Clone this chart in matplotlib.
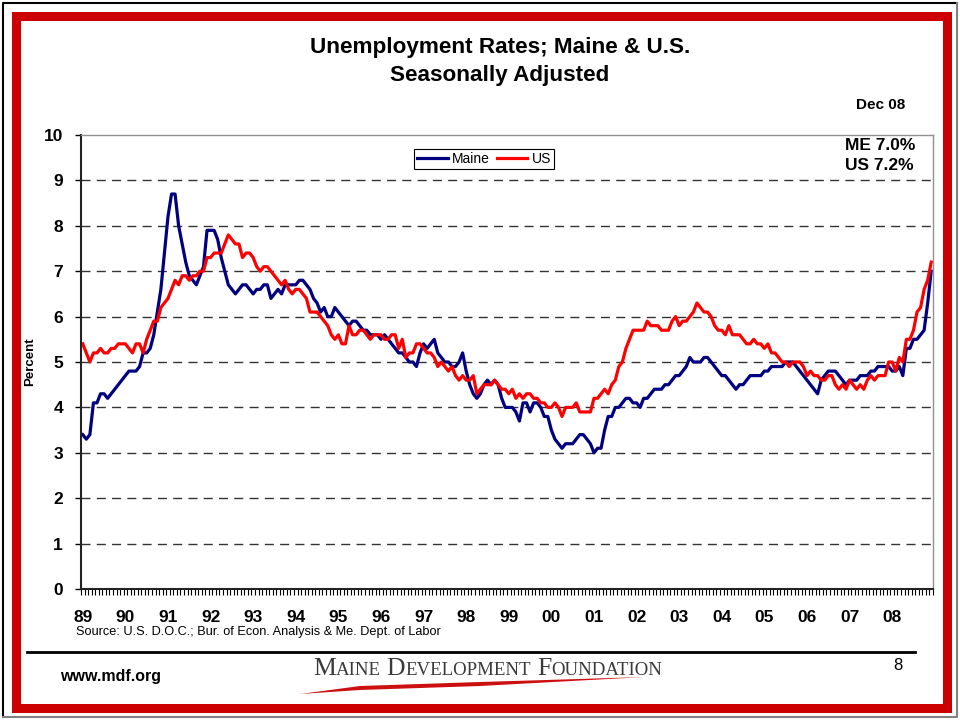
import matplotlib
matplotlib.use("Agg")
import matplotlib.pyplot as plt
import numpy as np
from matplotlib.patches import Rectangle, Polygon
from matplotlib.lines import Line2D

plt.rcParams['font.family'] = ['Liberation Sans', 'DejaVu Sans']

years = ["89", "90", "91", "92", "93", "94", "95", "96", "97", "98",
         "99", "00", "01", "02", "03", "04", "05", "06", "07", "08"]

# monthly, seasonally adjusted, Jan 1989 - Dec 2008
maine = [
    3.4, 3.3, 3.4, 4.1, 4.1, 4.3, 4.3, 4.2, 4.3, 4.4, 4.5, 4.6,
    4.7, 4.8, 4.8, 4.8, 4.9, 5.2, 5.2, 5.3, 5.6, 6.1, 6.6, 7.4,
    8.2, 8.7, 8.7, 8.0, 7.6, 7.2, 6.9, 6.8, 6.7, 6.9, 7.1, 7.9,
    7.9, 7.9, 7.7, 7.3, 7.0, 6.7, 6.6, 6.5, 6.6, 6.7, 6.7, 6.6,
    6.5, 6.6, 6.6, 6.7, 6.7, 6.4, 6.5, 6.6, 6.5, 6.7, 6.7, 6.7,
    6.7, 6.8, 6.8, 6.7, 6.6, 6.4, 6.3, 6.1, 6.2, 6.0, 6.0, 6.2,
    6.1, 6.0, 5.9, 5.8, 5.9, 5.9, 5.8, 5.7, 5.7, 5.6, 5.6, 5.6,
    5.5, 5.6, 5.5, 5.4, 5.3, 5.2, 5.2, 5.1, 5.0, 5.0, 4.9, 5.2,
    5.4, 5.3, 5.4, 5.5, 5.2, 5.1, 5.0, 5.0, 4.9, 4.9, 5.0, 5.2,
    4.8, 4.5, 4.3, 4.2, 4.3, 4.5, 4.6, 4.5, 4.6, 4.5, 4.2, 4.0,
    4.0, 4.0, 3.9, 3.7, 4.1, 4.1, 3.9, 4.1, 4.1, 4.0, 3.8, 3.8,
    3.5, 3.3, 3.2, 3.1, 3.2, 3.2, 3.2, 3.3, 3.4, 3.4, 3.3, 3.2,
    3.0, 3.1, 3.1, 3.5, 3.8, 3.8, 4.0, 4.0, 4.1, 4.2, 4.2, 4.1,
    4.1, 4.0, 4.2, 4.2, 4.3, 4.4, 4.4, 4.4, 4.5, 4.5, 4.6, 4.7,
    4.7, 4.8, 4.9, 5.1, 5.0, 5.0, 5.0, 5.1, 5.1, 5.0, 4.9, 4.8,
    4.7, 4.7, 4.6, 4.5, 4.4, 4.5, 4.5, 4.6, 4.7, 4.7, 4.7, 4.7,
    4.8, 4.8, 4.9, 4.9, 4.9, 4.9, 5.0, 5.0, 5.0, 4.9, 4.8, 4.7,
    4.6, 4.5, 4.4, 4.3, 4.6, 4.7, 4.8, 4.8, 4.8, 4.7, 4.6, 4.5,
    4.6, 4.6, 4.6, 4.7, 4.7, 4.7, 4.8, 4.8, 4.9, 4.9, 4.9, 4.9,
    4.8, 4.8, 4.9, 4.7, 5.3, 5.3, 5.5, 5.5, 5.6, 5.7, 6.3, 7.0,
]

us = [
    5.4, 5.2, 5.0, 5.2, 5.2, 5.3, 5.2, 5.2, 5.3, 5.3, 5.4, 5.4,
    5.4, 5.3, 5.2, 5.4, 5.4, 5.2, 5.5, 5.7, 5.9, 5.9, 6.2, 6.3,
    6.4, 6.6, 6.8, 6.7, 6.9, 6.9, 6.8, 6.9, 6.9, 7.0, 7.0, 7.3,
    7.3, 7.4, 7.4, 7.4, 7.6, 7.8, 7.7, 7.6, 7.6, 7.3, 7.4, 7.4,
    7.3, 7.1, 7.0, 7.1, 7.1, 7.0, 6.9, 6.8, 6.7, 6.8, 6.6, 6.5,
    6.6, 6.6, 6.5, 6.4, 6.1, 6.1, 6.1, 6.0, 5.9, 5.8, 5.6, 5.5,
    5.6, 5.4, 5.4, 5.8, 5.6, 5.6, 5.7, 5.7, 5.6, 5.5, 5.6, 5.6,
    5.6, 5.5, 5.5, 5.6, 5.6, 5.3, 5.5, 5.1, 5.2, 5.2, 5.4, 5.4,
    5.3, 5.2, 5.2, 5.1, 4.9, 5.0, 4.9, 4.8, 4.9, 4.7, 4.6, 4.7,
    4.6, 4.6, 4.7, 4.3, 4.4, 4.5, 4.5, 4.5, 4.6, 4.5, 4.4, 4.4,
    4.3, 4.4, 4.2, 4.3, 4.2, 4.3, 4.3, 4.2, 4.2, 4.1, 4.1, 4.0,
    4.0, 4.1, 4.0, 3.8, 4.0, 4.0, 4.0, 4.1, 3.9, 3.9, 3.9, 3.9,
    4.2, 4.2, 4.3, 4.4, 4.3, 4.5, 4.6, 4.9, 5.0, 5.3, 5.5, 5.7,
    5.7, 5.7, 5.7, 5.9, 5.8, 5.8, 5.8, 5.7, 5.7, 5.7, 5.9, 6.0,
    5.8, 5.9, 5.9, 6.0, 6.1, 6.3, 6.2, 6.1, 6.1, 6.0, 5.8, 5.7,
    5.7, 5.6, 5.8, 5.6, 5.6, 5.6, 5.5, 5.4, 5.4, 5.5, 5.4, 5.4,
    5.3, 5.4, 5.2, 5.2, 5.1, 5.0, 5.0, 4.9, 5.0, 5.0, 5.0, 4.9,
    4.7, 4.8, 4.7, 4.7, 4.6, 4.6, 4.7, 4.7, 4.5, 4.4, 4.5, 4.4,
    4.6, 4.5, 4.4, 4.5, 4.4, 4.6, 4.7, 4.6, 4.7, 4.7, 4.7, 5.0,
    5.0, 4.8, 5.1, 5.0, 5.5, 5.5, 5.7, 6.1, 6.2, 6.6, 6.8, 7.2,
]

W, H = 960, 721
fig = plt.figure(figsize=(W / 100, H / 100), dpi=100)


def fx(px):
    return px / W


def fy(py):
    return 1 - py / H


# frame around the slide
fig.add_artist(Line2D([fx(3), fx(3), fx(957)], [fy(717), fy(3), fy(3)], color="black", lw=1.5))
fig.add_artist(Line2D([fx(3), fx(957), fx(957)], [fy(717), fy(717), fy(3)], color="#808080", lw=1.5))
fig.add_artist(Rectangle((fx(16), fy(708)), fx(947) - fx(16), fy(16) - fy(708),
                         transform=fig.transFigure, fill=False, edgecolor="#CC0000", lw=6.5))

ax = fig.add_axes([fx(81), fy(589), (933 - 81) / W, (589 - 135) / H])
months = np.arange(len(maine))
ax.plot(months, maine, color="#000080", lw=2.3, label="Maine")
ax.plot(months, us, color="#FF0000", lw=2.3, label="US")

ax.set_xlim(-0.5, len(maine) - 0.5)
ax.set_ylim(0, 10)
ax.set_yticks(range(11))
ax.set_xticks(np.arange(0, len(maine), 12))
ax.set_xticklabels(years)
ax.set_xticks(np.arange(-0.5, len(maine)), minor=True)
ax.tick_params(axis="x", which="major", length=0, pad=15, labelsize=12.5)
ax.tick_params(axis="x", which="minor", length=4, width=0.8, direction="out")
ax.tick_params(axis="y", length=4, width=1, pad=9, labelsize=12.5)
for lab in ax.get_xticklabels() + ax.get_yticklabels():
    lab.set_fontweight("bold")

for v in range(1, 10):
    ax.axhline(v, color="#333333", lw=1, dashes=(6.5, 4.5), zorder=0)

for s in ["left", "bottom"]:
    ax.spines[s].set_color("#222222")
    ax.spines[s].set_linewidth(1.5)
for s in ["top", "right"]:
    ax.spines[s].set_color("#909090")
    ax.spines[s].set_linewidth(1)

ax.legend(loc="center", bbox_to_anchor=(fx(484), fy(159)), bbox_transform=fig.transFigure,
          ncol=2, frameon=True, fancybox=False, edgecolor="black", fontsize=10,
          handlelength=2.2, columnspacing=0.5, handletextpad=0.3, borderpad=0.2,
          framealpha=1).get_frame().set_linewidth(0.8)

fig.text(fx(500), fy(47), "Unemployment Rates; Maine & U.S.", ha="center", va="center",
         fontsize=16.2, fontweight="bold")
fig.text(fx(500), fy(75), "Seasonally Adjusted", ha="center", va="center",
         fontsize=16.2, fontweight="bold")
fig.text(fx(905), fy(105), "Dec 08", ha="right", va="center", fontsize=11, fontweight="bold")
fig.text(fx(845), fy(145), "ME 7.0%", ha="left", va="center", fontsize=12.5, fontweight="bold")
fig.text(fx(845), fy(166), "US 7.2%", ha="left", va="center", fontsize=12.5, fontweight="bold")
fig.text(fx(30), fy(362), "Percent", rotation=90, ha="center", va="center",
         fontsize=9.5, fontweight="bold")
fig.text(fx(76), fy(632), "Source: U.S. D.O.C.; Bur. of Econ. Analysis & Me. Dept. of Labor",
         ha="left", va="center", fontsize=9.2)

# footer
fig.add_artist(Line2D([fx(27), fx(915)], [fy(652), fy(652)], color="black", lw=2))
fig.text(fx(60), fy(676), "www.mdf.org", ha="left", va="center", fontsize=11.5, fontweight="bold")
fig.text(fx(898), fy(665), "8", ha="center", va="center", fontsize=12)

# logo text in small caps
renderer = fig.canvas.get_renderer()
x = 313
base = fy(675)
for word in ["MAINE", "DEVELOPMENT", "FOUNDATION"]:
    for k, part in enumerate([word[0], word[1:]]):
        t = fig.text(fx(x), base, part, ha="left", va="baseline", family="Liberation Serif",
                     fontsize=18.5 if k == 0 else 13.6, color="#3a3a3a")
        x += t.get_window_extent(renderer).width
    x += 6
fig.add_artist(Polygon([(fx(300), fy(694)), (fx(360), fy(686)), (fx(480), fy(682)),
                        (fx(645), fy(677)), (fx(480), fy(686)), (fx(360), fy(690))],
                       closed=True, transform=fig.transFigure, facecolor="#cc1010",
                       edgecolor="none"))

fig.savefig("out.png", dpi=100)
